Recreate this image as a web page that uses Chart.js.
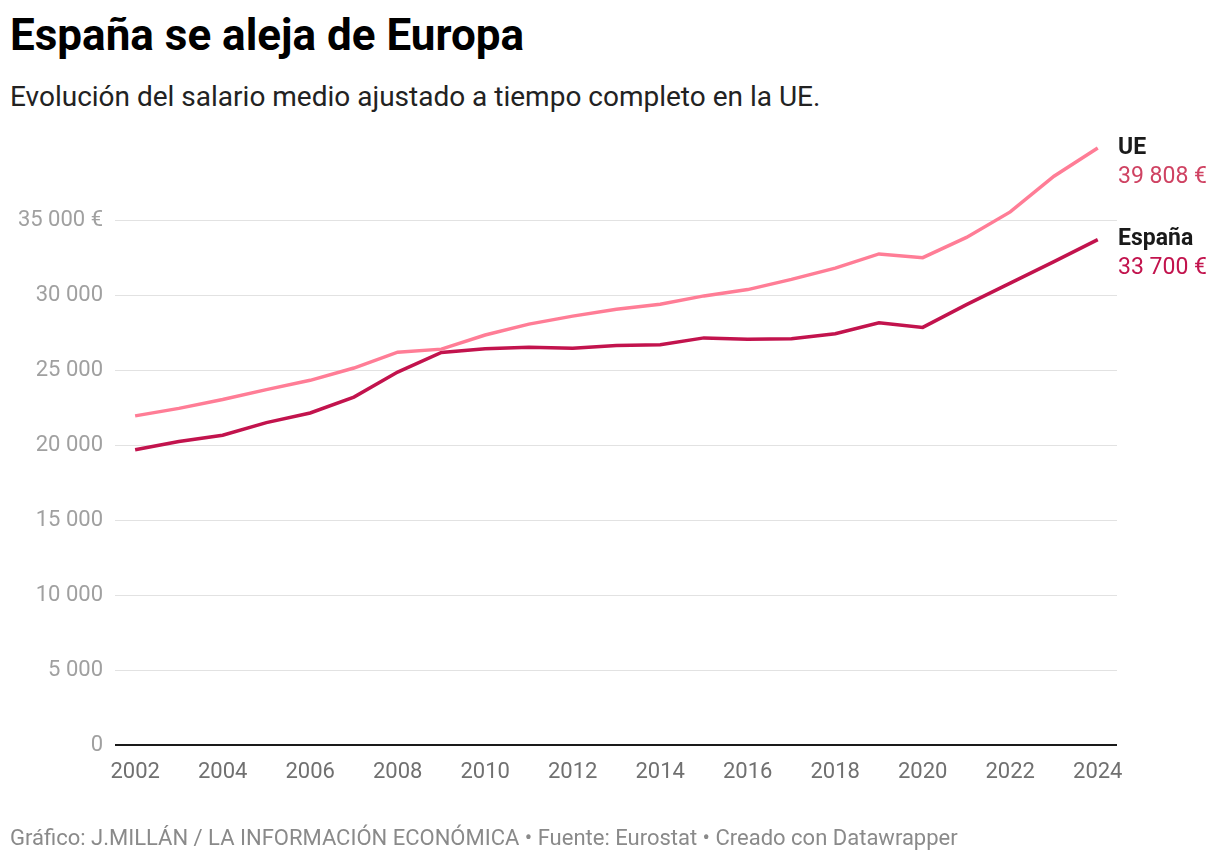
<!DOCTYPE html>
<html lang="es">
<head>
<meta charset="utf-8">
<script src="https://cdn.jsdelivr.net/npm/chart.js@4.4.1/dist/chart.umd.min.js"></script>
<style>
  body { margin: 0; background: #fff; font-family: Roboto, sans-serif; }
  #page { position: relative; width: 1220px; height: 862px; overflow: hidden; }
  h1 { position: absolute; left: 10px; top: 10px; margin: 0; font-size: 44px; line-height: 50px; font-weight: 700; color: #000; }
  .sub { position: absolute; left: 10px; top: 80px; margin: 0; font-size: 28px; line-height: 34px; color: #222; }
  .foot { position: absolute; left: 10px; top: 825px; margin: 0; font-size: 22px; line-height: 26px; color: #8a8a8a; }
  #wrap { position: absolute; left: 0; top: 120px; width: 1220px; height: 742px; }
</style>
</head>
<body>
<div id="page">
  <h1>España se aleja de Europa</h1>
  <p class="sub">Evolución del salario medio ajustado a tiempo completo en la UE.</p>
  <div id="wrap"><canvas id="chart" width="1220" height="742"></canvas></div>
  <p class="foot">Gráfico: J.MILLÁN / LA INFORMACIÓN ECONÓMICA • Fuente: Eurostat • Creado con Datawrapper</p>
</div>
<script>
// data
const years = [2002, 2003, 2004, 2005, 2006, 2007, 2008, 2009, 2010, 2011, 2012, 2013,
               2014, 2015, 2016, 2017, 2018, 2019, 2020, 2021, 2022, 2023, 2024];
const ueValues = [21950, 22450, 23040, 23700, 24320, 25140, 26200, 26400, 27340, 28070, 28600, 29060,
                  29400, 29950, 30370, 31050, 31800, 32750, 32500, 33850, 35550, 37930, 39808];
const espanaValues = [19690, 20240, 20660, 21500, 22140, 23200, 24870, 26180, 26420, 26530, 26460, 26640,
                      26700, 27150, 27060, 27100, 27430, 28160, 27850, 29370, 30800, 32240, 33700];
const xTicks = [2002, 2004, 2006, 2008, 2010, 2012, 2014, 2016, 2018, 2020, 2022, 2024];
const yTicks = [0, 5000, 10000, 15000, 20000, 25000, 30000, 35000];
const seriesNames = ['UE', 'España'];
const endLabels = ['39 808 €', '33 700 €'];

const FONT = 'Roboto, sans-serif';

// thousands with a space, like the original
function fmt(v) {
    return String(v).replace(/\B(?=(\d{3})+(?!\d))/g, ' ');
}

// write the series name and last value to the right of each line end
const endLabelPlugin = {
    id: 'endLabels',
    afterDraw(chart) {
        const ctx = chart.ctx;
        const area = chart.chartArea;
        ctx.save();
        ctx.textAlign = 'left';
        ctx.textBaseline = 'middle';
        chart.data.datasets.forEach((ds, i) => {
            const meta = chart.getDatasetMeta(i);
            const last = meta.data[meta.data.length - 1];
            const x = area.right + 1;
            ctx.font = '700 23px ' + FONT;
            ctx.fillStyle = '#1a1a1a';
            ctx.fillText(ds.label, x, last.y);
            ctx.font = '400 23px ' + FONT;
            ctx.fillStyle = ds.valueColor;
            ctx.fillText(endLabels[i], x, last.y + 29);
        });
        ctx.restore();
    }
};

const chart = new Chart(document.getElementById('chart'), {
    type: 'line',
    data: {
        datasets: [
            {
                label: seriesNames[0],
                data: years.map((y, i) => ({ x: y, y: ueValues[i] })),
                borderColor: '#ff7d96',
                valueColor: '#cf4262',
                borderWidth: 3.5,
                pointRadius: 0,
                tension: 0
            },
            {
                label: seriesNames[1],
                data: years.map((y, i) => ({ x: y, y: espanaValues[i] })),
                borderColor: '#c2134d',
                valueColor: '#c2134d',
                borderWidth: 3.5,
                pointRadius: 0,
                tension: 0
            }
        ]
    },
    options: {
        responsive: false,
        animation: false,
        devicePixelRatio: 1,
        layout: { padding: { top: 19, right: 103, left: 0, bottom: 0 } },
        plugins: { legend: { display: false }, tooltip: { enabled: false } },
        scales: {
            x: {
                type: 'linear',
                min: 2001.54,
                max: 2024.44,
                afterBuildTicks: (scale) => { scale.ticks = xTicks.map(v => ({ value: v })); },
                afterFit: (scale) => { scale.height = 117; },
                grid: { display: false, drawTicks: false },
                border: { display: false },
                ticks: {
                    padding: 14,
                    color: '#707070',
                    font: { family: FONT, size: 22 },
                    maxRotation: 0,
                    autoSkip: false,
                    callback: (v) => String(v)
                }
            },
            y: {
                min: 0,
                max: 40000,
                afterBuildTicks: (scale) => { scale.ticks = yTicks.map(v => ({ value: v })); },
                afterFit: (scale) => { scale.width = 115; },
                grid: {
                    drawTicks: false,
                    color: (c) => c.tick && c.tick.value === 0 ? '#1a1a1a' : '#e2e2e2',
                    lineWidth: (c) => c.tick && c.tick.value === 0 ? 2 : 1
                },
                border: { display: false },
                ticks: {
                    padding: 12,
                    color: '#a0a0a0',
                    font: { family: FONT, size: 22 },
                    callback: (v) => v === 35000 ? fmt(v) + ' €' : fmt(v)
                }
            }
        }
    },
    plugins: [endLabelPlugin]
});
</script>
</body>
</html>
